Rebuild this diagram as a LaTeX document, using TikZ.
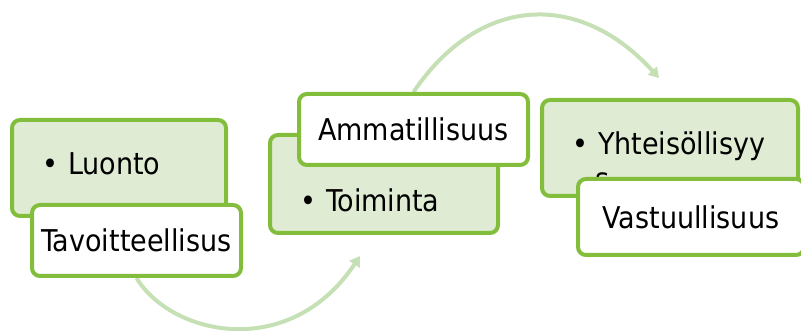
\documentclass[tikz,border=0pt]{standalone}
\usepackage{fontspec}
\setmainfont{DejaVu Sans Condensed}
\usetikzlibrary{arrows.meta}
\usetikzlibrary{backgrounds}

\definecolor{leafline}{RGB}{130,190,60}
\definecolor{leaffill}{RGB}{223,236,211}
\definecolor{flowgreen}{RGB}{197,224,180}

\begin{document}
\begin{tikzpicture}[x=1pt, y=-1pt,
    font=\fontsize{30}{35}\selectfont,
    greenbox/.style={shape=rectangle,
      rounded corners=8pt,
      line width=4pt,
      draw=leafline,
      fill=leaffill},
    whitebox/.style={shape=rectangle,
      rounded corners=8pt,
      line width=4pt,
      draw=leafline,
      fill=white,
      inner sep=0pt},
    itemtext/.style={anchor=base west, inner sep=0pt, align=left},
    flow/.style={draw=flowgreen,
      line width=4pt,
      -{Triangle[length=10pt,width=12pt]}}]
    \path [use as bounding box] (0,0) rectangle (801,331);

    % first step
    \node[name=luontobox, greenbox,
      minimum width=214pt, minimum height=96pt] at (119,168) {};
    \node[name=luonto, itemtext] at (42,175) {\textbullet\hspace{10pt}Luonto};
    \node[name=tav, whitebox,
      minimum width=209pt, minimum height=71pt] at (136.5,240.5) {Tavoitteellisus};

    % second step
    \node[name=toimintabox, greenbox,
      minimum width=228pt, minimum height=98pt] at (384,184) {};
    \node[name=toiminta, itemtext] at (300,212) {\textbullet\hspace{10pt}Toiminta};
    \node[name=amm, whitebox,
      minimum width=229pt, minimum height=71pt] at (413.5,129.5) {Ammatillisuus};

    % third step (last line sits on the base anchor)
    \node[name=yhteisobox, greenbox,
      minimum width=256pt, minimum height=96pt] at (670,148) {};
    \node[name=yhteiso, itemtext] at (572,190)
      {\textbullet\hspace{10pt}Yhteisöllisyy\\\hspace{23pt}s};
    \node[name=vast, whitebox,
      minimum width=226pt, minimum height=76pt] at (691,217) {Vastuullisuus};

    \coordinate (toimintaend) at (360,256);
    \coordinate (yhteisoend) at (659,78);

    \begin{scope}[on background layer]
      \draw[flow] (tav.south) .. controls (172,336) and (290,361) .. (toimintaend);
      \draw[flow] (amm.north) .. controls (480,-6) and (580,-9) .. (yhteisoend);
    \end{scope}
  \end{tikzpicture}
\end{document}
